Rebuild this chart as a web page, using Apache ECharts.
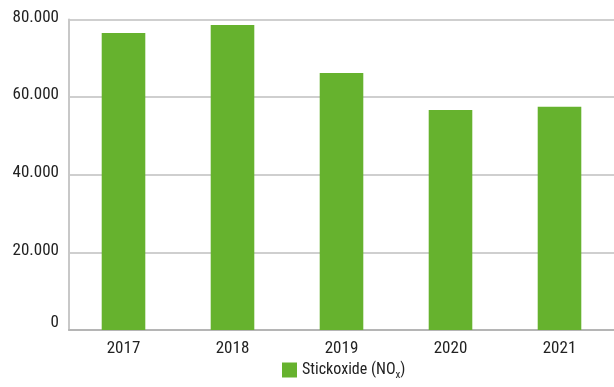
<!DOCTYPE html>
<html><head><meta charset="utf-8">
<script src="https://cdn.jsdelivr.net/npm/echarts@6/dist/echarts.min.js"></script>
<style>html,body{margin:0;padding:0;background:#fff}#c{width:614px;height:387px}</style>
</head><body><div id="c"></div>
<script>
const categories = ['2017','2018','2019','2020','2021'];
const values = [76500, 78600, 66200, 56700, 57500];
const yTicks = [0, 20000, 40000, 60000, 80000];
const seriesName = 'Stickoxide (NOx)';

const chart = echarts.init(document.getElementById('c'));
const font = 'Roboto Condensed, DejaVu Sans Condensed, Roboto, sans-serif';
chart.setOption({
  animation: false,
  textStyle: {fontFamily: font},
  grid: {left: 69, right: 0, top: 19.5, bottom: 57},
  legend: {
    top: 362, left: 282, padding: 0, itemWidth: 15, itemHeight: 15, itemGap: 8,
    icon: 'rect',
    data: [seriesName],
    formatter: () => '{a|Stickoxide (NO}{s|x}{a|)}',
    textStyle: {
      rich: {
        a: {fontSize: 16, color: '#222', fontFamily: font},
        s: {fontSize: 11, color: '#222', fontFamily: font, padding: [10,0,0,0]}
      }
    }
  },
  xAxis: {
    type: 'category', data: categories,
    axisLine: {lineStyle: {color: '#b5b5b5', width: 2}},
    axisTick: {inside: true, length: 8, lineStyle: {color: '#b5b5b5', width: 1}},
    axisLabel: {fontSize: 17, color: '#222', margin: 10, fontFamily: font}
  },
  yAxis: {
    type: 'value', min: yTicks[0], max: yTicks[yTicks.length-1], interval: 20000,
    axisLine: {show: true, lineStyle: {color: '#c8c8c8', width: 2}},
    axisTick: {show: false},
    splitLine: {lineStyle: {color: '#cfcfcf', width: 2}},
    axisLabel: {fontSize: 17, color: '#222', margin: 10, fontFamily: font,
      formatter: v => v === 0 ? '{z|0}' : '{n|' + (v/1000).toFixed(0) + '.000}',
      rich: {
        z: {fontSize: 17, color: '#222', fontFamily: font, padding: [0,0,14,0]},
        n: {fontSize: 17, color: '#222', fontFamily: font, padding: [0,0,4,0]}
      }
    }
  },
  series: [{
    name: seriesName, type: 'bar', data: values, barWidth: '40%',
    itemStyle: {color: '#66b22e'}
  }]
});
</script></body></html>
